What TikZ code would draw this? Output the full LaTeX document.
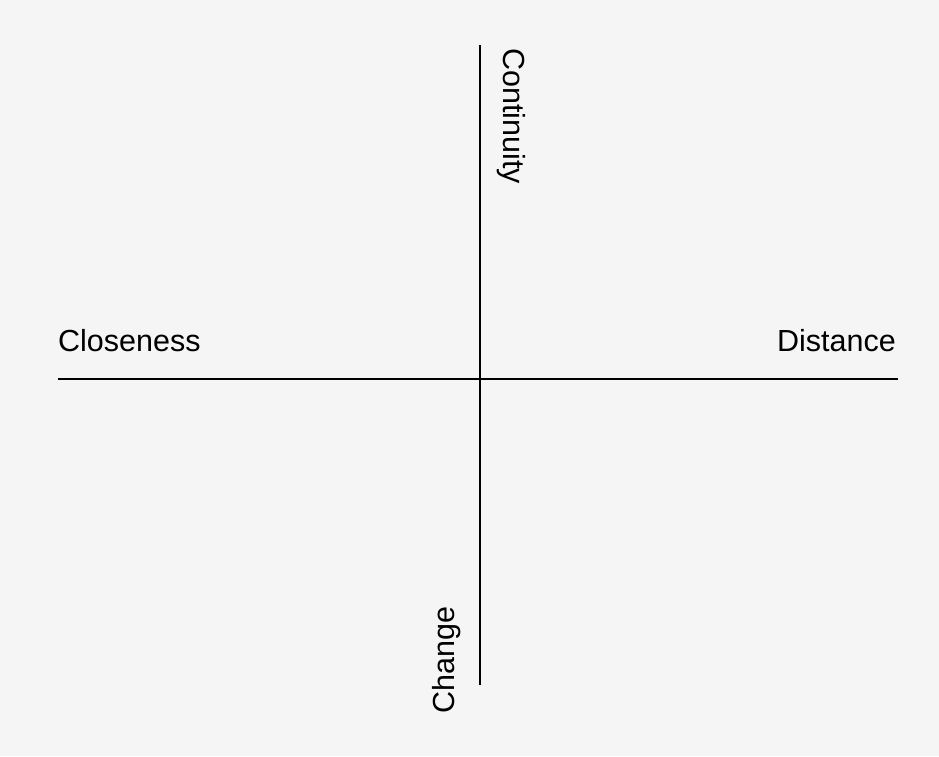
\documentclass[tikz,border=0pt]{standalone}
\usepackage{fontspec}
\setmainfont{Liberation Sans}
\definecolor{bg}{HTML}{F5F5F5}
\begin{document}
\begin{tikzpicture}[x=1pt,y=-1pt,
  axis/.style={line width=1.5pt,black},
  lbl/.style={inner sep=0pt,font=\fontsize{30.5}{36}\selectfont,text=black}]
\fill[bg] (0,0) rectangle (939,756);
\useasboundingbox (0,0) rectangle (939,756);
\coordinate (L) at (58,379);
\coordinate (R) at (898,379);
\coordinate (T) at (480,45);
\coordinate (B) at (480,685);
\draw[axis] (L) -- (R);
\draw[axis] (T) -- (B);
\node[lbl,anchor=base west] (close) at (58,351) {Closeness};
\node[lbl,anchor=base east] (dist) at (896,351) {Distance};
\node[lbl,anchor=base west,rotate=-90] (cont) at (503,48) {Continuity};
\node[lbl,anchor=base west,rotate=90] (chg) at (454,714) {Change};
\end{tikzpicture}
\end{document}
